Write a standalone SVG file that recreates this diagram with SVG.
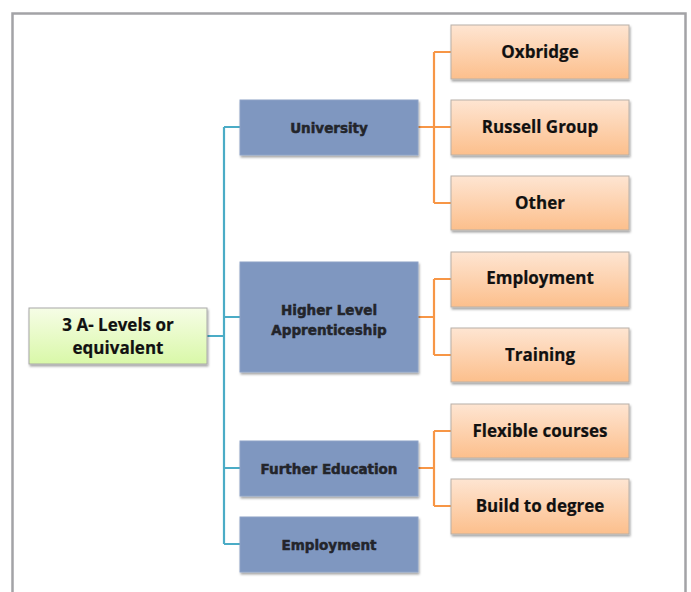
<svg xmlns="http://www.w3.org/2000/svg" width="691" height="592" viewBox="0 0 691 592">
<defs>
<linearGradient id="gOr" x1="0" y1="0" x2="0" y2="1"><stop offset="0" stop-color="#fee5d2"/><stop offset="1" stop-color="#fcbf8c"/></linearGradient>
<linearGradient id="gGr" x1="0" y1="0" x2="0" y2="1"><stop offset="0" stop-color="#f6fde6"/><stop offset="1" stop-color="#d9f8a8"/></linearGradient>
<filter id="sh" x="-10%" y="-10%" width="125%" height="130%"><feDropShadow dx="1" dy="2" stdDeviation="1.2" flood-color="#000" flood-opacity="0.35"/></filter>
</defs>
<style>
.b{fill:#7f97c0;stroke:#8ea2c6;stroke-width:1;filter:url(#sh)}
.o{fill:url(#gOr);stroke:#b8b0a8;stroke-width:1;filter:url(#sh)}
.g{fill:url(#gGr);stroke:#a8a8a8;stroke-width:1;filter:url(#sh)}
.tb{font-family:"DejaVu Sans",sans-serif;font-weight:bold;font-size:13.5px;fill:#23252b;stroke:#23252b;stroke-width:0.5;text-anchor:middle}
.to{font-family:"Open Sans","Liberation Sans",sans-serif;font-weight:bold;font-size:17px;fill:#111;stroke:#111;stroke-width:0.2;text-anchor:middle}
.cb{fill:none;stroke:#4bacc6;stroke-width:2.2}
.co{fill:none;stroke:#f79646;stroke-width:2.2}
</style>
<rect x="0" y="0" width="691" height="592" fill="#fff"/>
<path d="M12.5,600 V13.5 H685.5 V600" fill="none" stroke="#a3a3a6" stroke-width="2.5"/>
<g id="connectors">
<path class="cb" d="M207,336 H224 M224,127 V544 M224,127 H240 M224,317 H240 M224,468 H240 M224,544 H240"/>
<path class="co" d="M418,127 H434 M434,52 V203 M434,52 H451 M434,127 H451 M434,203 H451"/>
<path class="co" d="M418,317 H434 M434,279 V355 M434,279 H451 M434,355 H451"/>
<path class="co" d="M418,468 H434 M434,431 V506 M434,431 H451 M434,506 H451"/>
</g>
<g id="root"><rect class="g" x="29" y="308" width="178" height="56"/><text class="to" x="118" y="331">3 A- Levels or</text><text class="to" x="118" y="354">equivalent</text></g>
<g id="university"><rect class="b" x="240" y="100" width="178" height="55"/><text class="tb" x="329" y="133">University</text></g>
<g id="apprenticeship"><rect class="b" x="240" y="262" width="178" height="110"/><text class="tb" x="329" y="315">Higher Level</text><text class="tb" x="329" y="335">Apprenticeship</text></g>
<g id="further"><rect class="b" x="240" y="441" width="178" height="55"/><text class="tb" x="329" y="474">Further Education</text></g>
<g id="employment"><rect class="b" x="240" y="517" width="178" height="55"/><text class="tb" x="329" y="550">Employment</text></g>
<g id="oxbridge"><rect class="o" x="451" y="25" width="178" height="54"/><text class="to" x="540" y="58">Oxbridge</text></g>
<g id="russell"><rect class="o" x="451" y="100" width="178" height="55"/><text class="to" x="540" y="133">Russell Group</text></g>
<g id="other"><rect class="o" x="451" y="176" width="178" height="54"/><text class="to" x="540" y="209">Other</text></g>
<g id="employment2"><rect class="o" x="451" y="252" width="178" height="55"/><text class="to" x="540" y="284">Employment</text></g>
<g id="training"><rect class="o" x="451" y="328" width="178" height="54"/><text class="to" x="540" y="361">Training</text></g>
<g id="flexible"><rect class="o" x="451" y="404" width="178" height="54"/><text class="to" x="540" y="437">Flexible courses</text></g>
<g id="degree"><rect class="o" x="451" y="479" width="178" height="55"/><text class="to" x="540" y="512">Build to degree</text></g>
</svg>
